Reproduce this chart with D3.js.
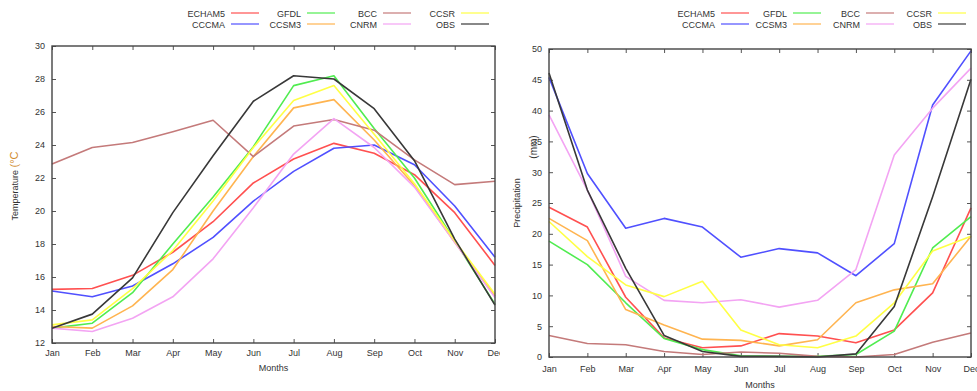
<!DOCTYPE html>
<html>
<head>
<meta charset="utf-8">
<script src="https://cdn.jsdelivr.net/npm/d3@7"></script>
<style>
  html, body { margin: 0; padding: 0; background: #fff; }
  svg { display: block; }
  text { font-family: "Liberation Sans", Arial, sans-serif; fill: #333; }
</style>
</head>
<body>
<svg id="chart" width="977" height="391"></svg>
<script>
// Monthly climatology: model simulations against observations
const months = ["Jan","Feb","Mar","Apr","May","Jun","Jul","Aug","Sep","Oct","Nov","Dec"];
const models = ["ECHAM5","CCCMA","GFDL","CCSM3","BCC","CNRM","CCSR","OBS"];
const modelColors = ["#ff5050","#5050ff","#50ec50","#ffb450","#c47a7a","#f3a4f3","#ffff45","#383838"];

const tempTicks = [12,14,16,18,20,22,24,26,28,30];
const precipTicks = [0,5,10,15,20,25,30,35,40,45,50];

// Temperature (°C), one row per model in the order of `models`
const tempECHAM5 = [15.25,15.3,16.1,17.5,19.35,21.7,23.15,24.1,23.5,22.2,19.9,16.7];
const tempCCCMA  = [15.15,14.8,15.45,16.8,18.4,20.6,22.4,23.8,24.0,22.8,20.3,17.2];
const tempGFDL   = [12.9,13.2,15.05,18.0,20.85,23.9,27.6,28.2,25.0,22.0,18.2,14.35];
const tempCCSM3  = [13.0,12.9,14.25,16.45,20.0,23.3,26.25,26.75,24.3,21.55,18.1,14.85];
const tempBCC    = [22.85,23.85,24.15,24.8,25.5,23.3,25.15,25.55,24.9,23.1,21.6,21.8];
const tempCNRM   = [12.9,12.7,13.5,14.8,17.1,20.2,23.45,25.6,23.85,21.45,18.1,14.75];
const tempCCSR   = [13.1,13.4,15.3,17.6,20.6,23.85,26.7,27.6,24.65,21.65,18.2,14.95];
const tempOBS    = [12.9,13.75,15.95,19.9,23.35,26.65,28.2,28.0,26.2,23.05,18.3,14.3];

// Precipitation (mm), same model order
const precECHAM5 = [24.3,21.1,9.7,3.1,1.5,1.8,3.8,3.4,2.3,4.4,10.4,24.2];
const precCCCMA  = [45.4,29.8,20.9,22.5,21.1,16.2,17.6,16.9,13.2,18.4,40.9,49.7];
const precGFDL   = [18.8,15.0,8.8,3.0,1.2,0.2,0.1,0.1,0.4,4.2,17.7,22.8];
const precCCSM3  = [22.5,18.9,7.7,5.2,2.9,2.7,1.8,2.8,8.8,10.9,11.9,19.6];
const precBCC    = [3.5,2.2,2.0,0.9,0.4,0.8,0.6,0.1,0.0,0.4,2.4,3.9];
const precCNRM   = [39.3,27.1,13.1,9.2,8.8,9.3,8.1,9.2,14.2,32.8,40.4,46.9];
const precCCSR   = [22.0,16.3,11.7,9.8,12.3,4.4,2.0,1.5,3.4,8.8,17.2,19.6];
const precOBS    = [46.1,27.1,14.4,3.5,0.9,0.1,0.1,0.0,0.5,8.2,26.0,45.1];

const tempSeries = [tempECHAM5,tempCCCMA,tempGFDL,tempCCSM3,tempBCC,tempCNRM,tempCCSR,tempOBS];
const precSeries = [precECHAM5,precCCCMA,precGFDL,precCCSM3,precBCC,precCNRM,precCCSR,precOBS];

const svg = d3.select("#chart");
const color = d3.scaleOrdinal().domain(models).range(modelColors);

function drawPanel(cfg) {
  const g = svg.append("g");
  if (cfg.clipRight) {
    svg.append("clipPath").attr("id", cfg.id + "-clip")
      .append("rect").attr("x", 0).attr("y", 0).attr("width", cfg.clipRight).attr("height", 391);
    g.attr("clip-path", `url(#${cfg.id}-clip)`);
  }

  const x = d3.scalePoint().domain(months).range([cfg.left, cfg.right]);
  const y = d3.scaleLinear().domain(cfg.yDomain).range([cfg.bottom, cfg.top]);

  const styleAxis = sel => {
    sel.select(".domain").remove();
    sel.selectAll(".tick line").attr("stroke", "#555").attr("stroke-width", 1);
    sel.selectAll(".tick text").attr("font-size", 9).attr("fill", "#444")
      .style("font-family", "'Liberation Sans', Arial, sans-serif");
  };

  // left axis with labels, inward ticks
  g.append("g").attr("transform", `translate(${cfg.left},0)`)
    .call(d3.axisLeft(y).tickValues(cfg.ticks).tickFormat(d3.format("d"))
      .tickSizeInner(-4).tickSizeOuter(0).tickPadding(7))
    .call(styleAxis);
  // mirrored right ticks
  g.append("g").attr("transform", `translate(${cfg.right},0)`)
    .call(d3.axisRight(y).tickValues(cfg.ticks).tickFormat("")
      .tickSizeInner(-4).tickSizeOuter(0))
    .call(styleAxis);
  // bottom axis with month labels
  g.append("g").attr("transform", `translate(0,${cfg.bottom})`)
    .call(d3.axisBottom(x).tickSizeInner(-4).tickSizeOuter(0).tickPadding(cfg.xPad))
    .call(styleAxis);
  // mirrored top ticks
  g.append("g").attr("transform", `translate(0,${cfg.top})`)
    .call(d3.axisTop(x).tickFormat("").tickSizeInner(-4).tickSizeOuter(0))
    .call(styleAxis);

  // series lines
  const line = d3.line().x((d, i) => x(months[i])).y(d => y(d));
  g.append("g").selectAll("path")
    .data(cfg.series)
    .join("path")
      .attr("d", d => line(d))
      .attr("fill", "none")
      .attr("stroke", (d, i) => color(models[i]))
      .attr("stroke-width", 1.6)
      .attr("stroke-linejoin", "round");

  // frame
  g.append("rect")
    .attr("x", cfg.left).attr("y", cfg.top)
    .attr("width", cfg.right - cfg.left).attr("height", cfg.bottom - cfg.top)
    .attr("fill", "none").attr("stroke", "#444").attr("stroke-width", 1.4);

  // axis titles
  g.append("text")
    .attr("x", (cfg.left + cfg.right) / 2).attr("y", cfg.xTitleY)
    .attr("text-anchor", "middle").attr("font-size", 9).attr("fill", "#444")
    .text("Months");

  cfg.yTitle(g);

  // key: two rows, four columns
  const key = g.append("g");
  models.forEach((m, i) => {
    const col = Math.floor(i / 2), row = i % 2;
    const tx = cfg.keyX[col], ty = 13 + row * 11;
    key.append("text")
      .attr("x", tx).attr("y", ty + 3.5)
      .attr("text-anchor", "end").attr("font-size", 9).attr("fill", "#444")
      .text(m);
    key.append("line")
      .attr("x1", tx + 6).attr("x2", tx + 34)
      .attr("y1", ty).attr("y2", ty)
      .attr("stroke", color(m)).attr("stroke-width", 2).attr("stroke-opacity", 0.6);
  });
}

drawPanel({
  id: "temp", left: 52, right: 495, top: 46, bottom: 343, clipRight: 500,
  yDomain: [12, 30], ticks: tempTicks, series: tempSeries, xPad: 7, xTitleY: 371,
  keyX: [225, 301, 377, 455],
  yTitle: g => {
    const t = g.append("text")
      .attr("transform", "translate(18,186) rotate(-90)")
      .attr("text-anchor", "middle").attr("font-size", 9).attr("fill", "#444");
    t.append("tspan").text("Temperature ");
    t.append("tspan").attr("fill", "#d08a2a").attr("font-size", 11).text("(°C");
  }
});

drawPanel({
  id: "prec", left: 549, right: 971, top: 49, bottom: 357,
  yDomain: [0, 50], ticks: precipTicks, series: precSeries, xPad: 9, xTitleY: 388,
  keyX: [715, 787, 860, 932],
  yTitle: g => {
    g.append("text")
      .attr("transform", "translate(520,203) rotate(-90)")
      .attr("text-anchor", "middle").attr("font-size", 9).attr("fill", "#444")
      .text("Precipitation");
    g.append("text")
      .attr("transform", "translate(537,147) rotate(-90)")
      .attr("text-anchor", "middle").attr("font-size", 10).attr("fill", "#6a6a2a")
      .text("(mm)");
  }
});
</script>
</body>
</html>
